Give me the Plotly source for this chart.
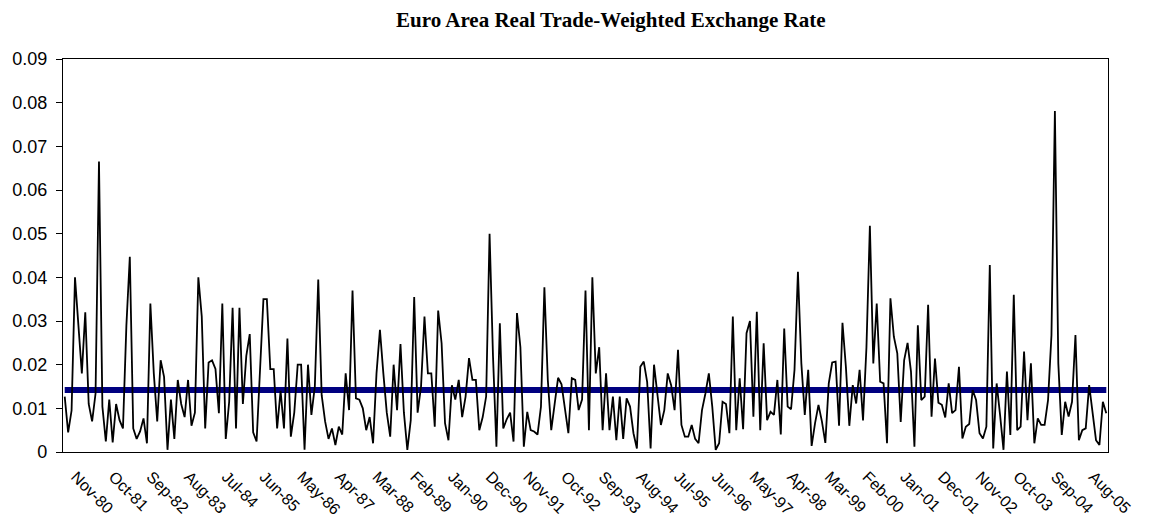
import pandas as pd
import plotly.graph_objects as go

start_month = "1980-11"

rate_values = [
    0.0127, 0.0045, 0.0095, 0.040, 0.029, 0.018, 0.032, 0.011, 0.007, 0.0134,
    0.0665, 0.0104, 0.0024, 0.012, 0.0022, 0.011, 0.0073, 0.0054, 0.029, 0.0447,
    0.0054, 0.003, 0.0047, 0.0077, 0.002, 0.034, 0.018, 0.007, 0.021, 0.0172,
    0.0005, 0.012, 0.003, 0.0165, 0.011, 0.008, 0.0165, 0.006, 0.009, 0.040,
    0.031, 0.0054, 0.0205, 0.021, 0.019, 0.0089, 0.034, 0.003, 0.0115, 0.033,
    0.0054, 0.033, 0.011, 0.022, 0.027, 0.0045, 0.0024, 0.019, 0.035, 0.035,
    0.019, 0.019, 0.0054, 0.014, 0.0054, 0.026, 0.0035, 0.009, 0.020, 0.020,
    0.0005, 0.020, 0.0085, 0.015, 0.0395, 0.013, 0.007, 0.003, 0.0054, 0.0016,
    0.0058, 0.004, 0.018, 0.0096, 0.037, 0.0123, 0.012, 0.010, 0.005, 0.008,
    0.002, 0.018, 0.028, 0.018, 0.009, 0.0035, 0.020, 0.0096, 0.0247, 0.009,
    0.0005, 0.0073, 0.0355, 0.009, 0.015, 0.031, 0.018, 0.018, 0.0058, 0.0324,
    0.0249, 0.0066, 0.0027, 0.0153, 0.012, 0.0165, 0.008, 0.0127, 0.0215, 0.0165,
    0.0165, 0.005, 0.008, 0.0127, 0.050, 0.022, 0.0012, 0.0295, 0.0054, 0.0075,
    0.009, 0.0024, 0.0318, 0.024, 0.0012, 0.0092, 0.005, 0.0047, 0.004, 0.0104,
    0.0377, 0.0165, 0.005, 0.011, 0.017, 0.0155, 0.010, 0.0043, 0.0169, 0.0165,
    0.0096, 0.012, 0.037, 0.005, 0.040, 0.018, 0.024, 0.005, 0.018, 0.005,
    0.0127, 0.0027, 0.0127, 0.003, 0.0123, 0.0104, 0.0043, 0.0008, 0.0195, 0.0207,
    0.016, 0.0008, 0.020, 0.0127, 0.0062, 0.0096, 0.018, 0.0153, 0.0096, 0.0234,
    0.0062, 0.0035, 0.0035, 0.0062, 0.003, 0.002, 0.0096, 0.0134, 0.018, 0.0104,
    0.0005, 0.002, 0.0115, 0.011, 0.0043, 0.031, 0.005, 0.0169, 0.0052, 0.0272,
    0.030, 0.0081, 0.0321, 0.005, 0.0249, 0.0073, 0.0092, 0.0085, 0.0165, 0.004,
    0.0283, 0.0104, 0.0098, 0.0188, 0.0413, 0.0203, 0.0085, 0.0188, 0.0014, 0.0066,
    0.0108, 0.007, 0.0021, 0.0157, 0.0205, 0.0207, 0.006, 0.0296, 0.0195, 0.006,
    0.0153, 0.0111, 0.0188, 0.0072, 0.024, 0.0518, 0.0203, 0.034, 0.0161, 0.0157,
    0.002, 0.0352, 0.0264, 0.0226, 0.0069, 0.021, 0.025, 0.0184, 0.0012, 0.029,
    0.0119, 0.0127, 0.0337, 0.0081, 0.0214, 0.0113, 0.0108, 0.0079, 0.0157, 0.0089,
    0.0096, 0.0195, 0.0031, 0.0058, 0.0064, 0.0142, 0.0119, 0.0043, 0.0031, 0.0058,
    0.0428, 0.0008, 0.0157, 0.0085, 0.0005, 0.0184, 0.0039, 0.036, 0.005, 0.0058,
    0.023, 0.0073, 0.0203, 0.002, 0.0077, 0.0062, 0.0062, 0.0119, 0.0268, 0.0781,
    0.0203, 0.0039, 0.0115, 0.0081, 0.0115, 0.0268, 0.0027, 0.005, 0.0054, 0.0153,
    0.0089, 0.0027, 0.0016, 0.0115, 0.0089,
]

average_value = 0.0142

months = list(pd.date_range(start_month, periods=len(rate_values), freq="MS").strftime("%b-%y"))
tick_labels = months[::11]
average_values = [average_value] * len(rate_values)

fig = go.Figure()
fig.add_trace(go.Scatter(
    x=months, y=average_values, mode="lines",
    line=dict(color="#000080", width=6), hoverinfo="skip", showlegend=False,
))
fig.add_trace(go.Scatter(
    x=months, y=rate_values, mode="lines",
    line=dict(color="black", width=1.8), showlegend=False,
))

fig.update_layout(
    width=1153, height=531,
    margin=dict(l=55, r=53, t=51, b=87, autoexpand=False),
    paper_bgcolor="white", plot_bgcolor="white",
    font=dict(family="Liberation Sans, Arial, sans-serif", size=16, color="black"),
    annotations=[dict(
        text="<b>Euro Area Real Trade-Weighted Exchange Rate</b>",
        x=0.5244, y=1, xref="paper", yref="paper", yanchor="middle", xanchor="center",
        yshift=39, showarrow=False,
        font=dict(family="Liberation Serif, Times New Roman, serif", size=21, color="black"),
    )],
)
fig.update_xaxes(
    type="category", categoryorder="array", categoryarray=months,
    range=[-0.5, len(months) - 0.5], automargin=False,
    tickmode="array", tickvals=tick_labels, ticktext=tick_labels,
    tickangle=45, ticks="", showgrid=False, zeroline=False,
    ticklabelstandoff=8, ticklabelshift=11,
    showline=True, linecolor="black", linewidth=1.3, mirror=True,
    tickfont=dict(size=16),
)
fig.update_yaxes(
    range=[0, 0.09], dtick=0.01, tickformat="~g", automargin=False,
    ticks="outside", ticklen=6, tickcolor="black", tickwidth=1.2,
    ticklabelstandoff=5,
    showgrid=False, zeroline=False,
    showline=True, linecolor="black", linewidth=1.3, mirror=True,
    tickfont=dict(size=18),
)

fig.write_html("out.html")
